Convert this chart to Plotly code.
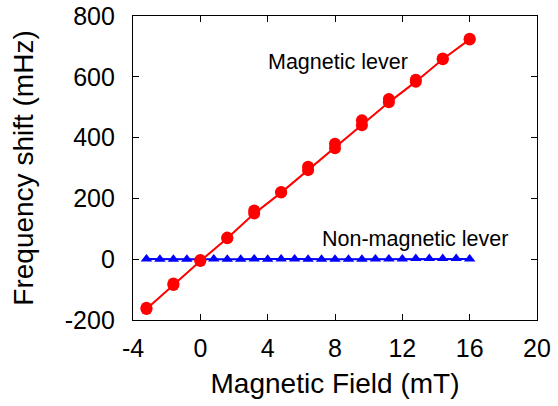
import plotly.graph_objects as go

field_mag = [-3.2, -1.6, 0.0, 1.6, 3.2, 4.8, 6.4, 8.0, 9.6, 11.2, 12.8, 14.4, 16.0]
shift_mag_up = [-164, -85, -6, 69, 150, 219, 293, 365, 441, 516, 584, 658, 723]
shift_mag_down = [-160, -80, -3, 71, 160, 221, 304, 380, 457, 527, 590, 660, 725]

field_nonmag = [-3.2, -2.4, -1.6, -0.8, 0.0, 0.8, 1.6, 2.4, 3.2, 4.0, 4.8, 5.6, 6.4,
                7.2, 8.0, 8.8, 9.6, 10.4, 11.2, 12.0, 12.8, 13.6, 14.4, 15.2, 16.0]
shift_nonmag = [1, 0, 0, 0, 0, 1, 0, 0, 1, 0, 1, 1, 0, 0, 0, 0, 0, 1, 1, 1, 2, 2, 2, 2, 1]

x_ticks = [-4, 0, 4, 8, 12, 16, 20]
x_labels = ["-4", "0", "4", "8", "12", "16", "20"]
y_ticks = [-200, 0, 200, 400, 600, 800]
y_labels = ["-200", "0", "200", "400", "600", "800"]

fig = go.Figure()
fig.add_trace(go.Scatter(x=field_nonmag, y=shift_nonmag, mode="lines+markers",
                         line=dict(color="#0000ff", width=2),
                         marker=dict(symbol="triangle-up", size=10, color="#0000ff"),
                         showlegend=False))
fig.add_trace(go.Scatter(x=field_mag, y=shift_mag_down, mode="markers",
                         marker=dict(symbol="circle", size=12, color="#ff0000"),
                         showlegend=False))
fig.add_trace(go.Scatter(x=field_mag, y=shift_mag_up, mode="lines+markers",
                         line=dict(color="#ff0000", width=2),
                         marker=dict(symbol="circle", size=12, color="#ff0000"),
                         showlegend=False))

fig.add_annotation(x=8.18, y=649, text="Magnetic lever", showarrow=False,
                   font=dict(size=21.5, color="black"))
fig.add_annotation(x=12.76, y=66, text="Non-magnetic lever", showarrow=False,
                   font=dict(size=21.5, color="black"))

axis_common = dict(showline=True, linecolor="black", linewidth=1.3, mirror="ticks",
                   ticks="inside", ticklen=6, tickcolor="black", tickwidth=1,
                   showgrid=False, zeroline=False, automargin=False,
                   tickfont=dict(size=25, color="black"))
fig.update_xaxes(range=[-4, 20], tickvals=x_ticks, ticktext=x_labels, ticklabelstandoff=6,
                 title=dict(text="Magnetic Field (mT)", font=dict(size=28, color="black"),
                            standoff=12), **axis_common)
fig.update_yaxes(range=[-200, 800], tickvals=y_ticks, ticktext=y_labels, ticklabelstandoff=12,
                 title=dict(text="Frequency shift (mHz)", font=dict(size=28, color="black"),
                            standoff=23), **axis_common)

fig.update_layout(width=558, height=406, margin=dict(l=133, r=21, t=16, b=86),
                  plot_bgcolor="white", paper_bgcolor="white",
                  font=dict(family="Liberation Sans, Arial, sans-serif", color="black"))
fig.write_html("out.html", config={"displayModeBar": False},
               post_script="document.body.style.margin='0';")
